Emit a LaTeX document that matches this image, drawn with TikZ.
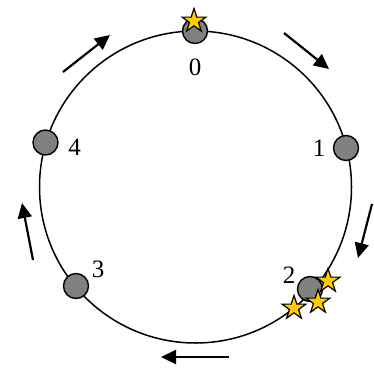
\documentclass[tikz,border=0pt]{standalone}
\usepackage{fontspec}
\setmainfont{Liberation Serif}
\usetikzlibrary{shapes.geometric,arrows.meta}
\definecolor{stargold}{HTML}{FFCC00}
\definecolor{nodegray}{HTML}{808080}
\tikzset{
  ring/.style={line width=1.5pt},
  station/.style={circle,draw=black,line width=1.4pt,fill=nodegray,minimum size=25pt,inner sep=0pt},
  lbl/.style={font=\fontsize{25}{25}\selectfont,inner sep=0pt},
  goldstar/.style={star,star points=5,star point ratio=2.6,draw=black,line width=1.2pt,fill=stargold,minimum size=25pt,inner sep=0pt},
  dirarrow/.style={line width=2.2pt,-{Triangle[length=15pt,width=14pt]}}
}
\begin{document}
\begin{tikzpicture}[x=1pt,y=-1pt]
\useasboundingbox (0,0) rectangle (374,367);
\draw[ring] (195.5,187) circle[radius=156];
\node[station] (n0) at (195,31) {};
\node[station] (n1) at (346,148) {};
\node[station] (n2) at (310,289) {};
\node[station] (n3) at (76,286) {};
\node[station] (n4) at (45.5,142.5) {};
\node[lbl] (l0) at (195,67) {0};
\node[lbl] (l1) at (319,148) {1};
\node[lbl] (l2) at (289,275) {2};
\node[lbl] (l3) at (98,269) {3};
\node[lbl] (l4) at (74.5,147) {4};
\node[goldstar] (s0) at (194,21) {};
\node[goldstar] (s2a) at (328,281) {};
\node[goldstar] (s2b) at (318,302) {};
\node[goldstar] (s2c) at (294,308) {};
\coordinate (a1s) at (284,33);  \coordinate (a1e) at (329,69);
\coordinate (a2s) at (372,204); \coordinate (a2e) at (358,258);
\coordinate (a3s) at (229,357); \coordinate (a3e) at (161,357);
\coordinate (a4s) at (33,260);  \coordinate (a4e) at (22,203);
\coordinate (a5s) at (63,72);   \coordinate (a5e) at (110,35);
\draw[dirarrow] (a1s) -- (a1e);
\draw[dirarrow] (a2s) -- (a2e);
\draw[dirarrow] (a3s) -- (a3e);
\draw[dirarrow] (a4s) -- (a4e);
\draw[dirarrow] (a5s) -- (a5e);
\end{tikzpicture}
\end{document}
